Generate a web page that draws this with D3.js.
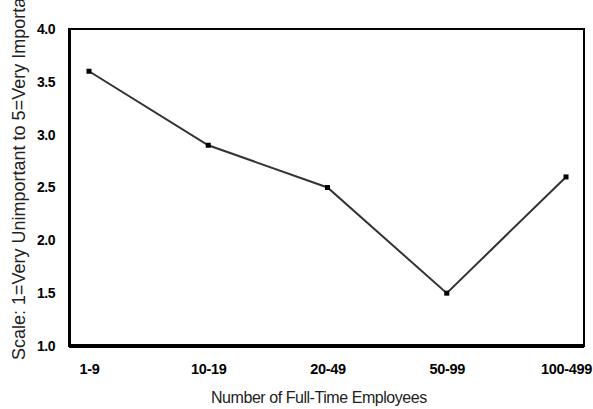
<!DOCTYPE html>
<html lang="en">
<head>
<meta charset="UTF-8">
<title>Employees chart</title>
<script src="https://d3js.org/d3.v7.min.js"></script>
<style>
    body { margin: 0; background: #fff; }
    svg { font-family: "Liberation Sans", Arial, sans-serif; display: block; }
</style>
</head>
<body>
<div id="chart"></div>
<script>
var categories = ["1-9", "10-19", "20-49", "50-99", "100-499"];
var values = [3.6, 2.9, 2.5, 1.5, 2.6];
var yTicks = [1.0, 1.5, 2.0, 2.5, 3.0, 3.5, 4.0];

var width = 593, height = 409;
var plot = {left: 69, top: 29, right: 584, bottom: 346};

var svg = d3.select("#chart").append("svg")
    .attr("width", width)
    .attr("height", height);

var x = d3.scalePoint()
    .domain(categories)
    .range([89, 566]);

var y = d3.scaleLinear()
    .domain([1, 4])
    .range([plot.bottom, plot.top]);

// frame
svg.append("rect")
    .attr("x", plot.left)
    .attr("y", plot.top)
    .attr("width", plot.right - plot.left)
    .attr("height", plot.bottom - plot.top)
    .attr("fill", "none")
    .attr("stroke", "#000")
    .attr("stroke-width", 2);

// y axis
var yAxis = svg.append("g")
    .attr("transform", "translate(" + plot.left + ",0)")
    .call(d3.axisLeft(y).tickValues(yTicks).tickSize(0).tickPadding(14).tickFormat(d3.format(".1f")));
yAxis.select(".domain").attr("stroke-width", 3);
yAxis.selectAll("text")
    .attr("font-size", 14)
    .attr("letter-spacing", -0.5)
    .attr("font-weight", "bold")
    .attr("font-family", "Liberation Sans, Arial, sans-serif")
    .attr("fill", "#000");

// x axis
var xAxis = svg.append("g")
    .attr("transform", "translate(0," + plot.bottom + ")")
    .call(d3.axisBottom(x).tickSize(0).tickPadding(18));
xAxis.select(".domain")
    .attr("d", "M" + plot.left + ",0H" + plot.right)
    .attr("stroke-width", 4);
xAxis.selectAll("text")
    .attr("font-size", 14.5)
    .attr("letter-spacing", -0.3)
    .attr("font-weight", "bold")
    .attr("font-family", "Liberation Sans, Arial, sans-serif")
    .attr("fill", "#000");

// line
var line = d3.line()
    .x(function(d, i) { return x(categories[i]); })
    .y(function(d) { return y(d); });

svg.append("path")
    .datum(values)
    .attr("d", line)
    .attr("fill", "none")
    .attr("stroke", "#333")
    .attr("stroke-width", 2);

svg.selectAll(".pt")
    .data(values)
    .enter()
    .append("rect")
    .attr("class", "pt")
    .attr("x", function(d, i) { return x(categories[i]) - 2.5; })
    .attr("y", function(d) { return y(d) - 2.5; })
    .attr("width", 5)
    .attr("height", 5)
    .attr("fill", "#000");

// axis titles
svg.append("text")
    .attr("x", 211)
    .attr("y", 403)
    .attr("text-anchor", "start")
    .attr("font-size", 16)
    .attr("letter-spacing", -0.45)
    .attr("fill", "#222")
    .text("Number of Full-Time Employees");

svg.append("text")
    .attr("transform", "translate(25,360) rotate(-90)")
    .attr("text-anchor", "start")
    .attr("font-size", 18)
    .attr("fill", "#222")
    .text("Scale: 1=Very Unimportant to 5=Very Important");
</script>
</body>
</html>
